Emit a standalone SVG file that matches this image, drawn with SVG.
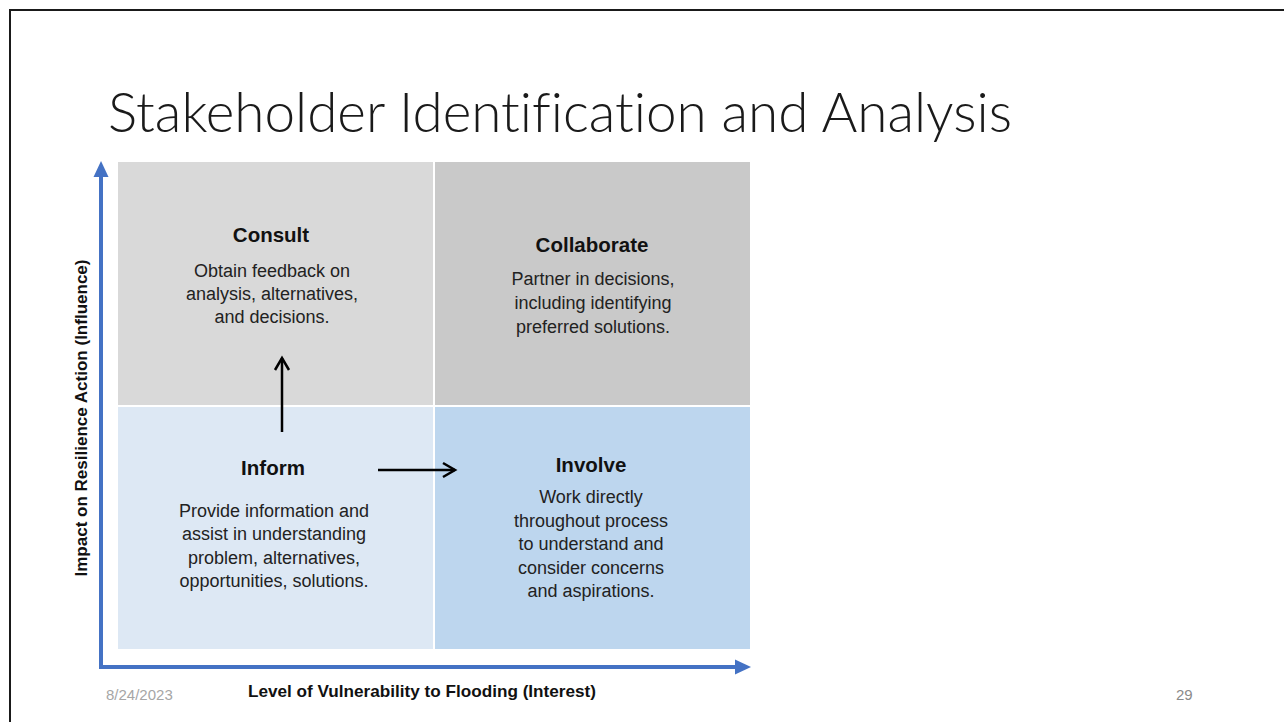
<svg xmlns="http://www.w3.org/2000/svg" width="1284" height="722" viewBox="0 0 1284 722">
<style>
.title{font-family:"Lato","Liberation Sans",sans-serif;font-weight:300;font-size:55px;fill:#1a1a1a;font-variant-ligatures:none;font-feature-settings:"liga" 0}
.h{font-family:"Liberation Sans",Arial,sans-serif;font-weight:bold;font-size:20.5px;fill:#111;text-anchor:middle}
.b{font-family:"Liberation Sans",Arial,sans-serif;font-size:18px;fill:#222;text-anchor:middle}
.ax{font-family:"Liberation Sans",Arial,sans-serif;font-weight:bold;font-size:17px;fill:#111}
.foot{font-family:"Liberation Sans",Arial,sans-serif;font-size:15px}
.blk{stroke:#000;stroke-width:2.5;fill:none}
.axis{stroke:#4472c4;stroke-width:4;fill:none;stroke-linejoin:miter}
</style>
<defs>
<marker id="openHead" markerUnits="userSpaceOnUse" markerWidth="18" markerHeight="18" refX="15" refY="8" orient="auto" overflow="visible">
<path d="M3,1 L15,8 L3,15" fill="none" stroke="#000" stroke-width="2.5"/>
</marker>
<marker id="blueHead" markerUnits="userSpaceOnUse" markerWidth="18" markerHeight="18" refX="0" refY="7.5" orient="auto-start-reverse" overflow="visible">
<path d="M0,0 L16,7.5 L0,15 Z" fill="#4472c4"/>
</marker>
</defs>
<rect width="1284" height="722" fill="#fff"/>
<path d="M10,722 L10,10 L1284,10" fill="none" stroke="#1a1a1a" stroke-width="2"/>
<text class="title" x="108" y="132" textLength="904" lengthAdjust="spacingAndGlyphs">Stakeholder Identification and Analysis</text>

<g id="consult">
<rect x="118" y="162" width="315" height="243" fill="#d9d9d9"/>
<text class="h" x="271" y="242">Consult</text>
<text class="b" x="272" y="277">Obtain feedback on</text>
<text class="b" x="272" y="300">analysis, alternatives,</text>
<text class="b" x="272" y="323">and decisions.</text>
</g>
<g id="collaborate">
<rect x="435" y="162" width="315" height="243" fill="#c9c9c9"/>
<text class="h" x="592" y="251.5">Collaborate</text>
<text class="b" x="593" y="285">Partner in decisions,</text>
<text class="b" x="593" y="309">including identifying</text>
<text class="b" x="593" y="332.5">preferred solutions.</text>
</g>
<g id="inform">
<rect x="118" y="407" width="315" height="242" fill="#dde8f4"/>
<text class="h" x="273" y="475">Inform</text>
<text class="b" x="274" y="516.5">Provide information and</text>
<text class="b" x="274" y="540">assist in understanding</text>
<text class="b" x="274" y="563.5">problem, alternatives,</text>
<text class="b" x="274" y="586.5">opportunities, solutions.</text>
</g>
<g id="involve">
<rect x="435" y="407" width="315" height="242" fill="#bdd6ee"/>
<text class="h" x="591" y="471.5">Involve</text>
<text class="b" x="591" y="503">Work directly</text>
<text class="b" x="591" y="527">throughout process</text>
<text class="b" x="591" y="550">to understand and</text>
<text class="b" x="591" y="573.5">consider concerns</text>
<text class="b" x="591" y="597">and aspirations.</text>
</g>

<g id="axes">
<path class="axis" d="M101,177 L101,667 L735,667" marker-start="url(#blueHead)" marker-end="url(#blueHead)"/>
<text class="ax" transform="translate(87,418) rotate(-90)" text-anchor="middle" textLength="317" lengthAdjust="spacingAndGlyphs">Impact on Resilience Action (Influence)</text>
<text class="ax" x="248" y="697" textLength="348" lengthAdjust="spacingAndGlyphs">Level of Vulnerability to Flooding (Interest)</text>
</g>

<g id="connectors">
<line class="blk" x1="282" y1="432" x2="282" y2="358" marker-end="url(#openHead)"/>
<line class="blk" x1="378" y1="470" x2="455" y2="470" marker-end="url(#openHead)"/>
</g>

<text class="foot" x="106" y="700" fill="#a6a6a6">8/24/2023</text>
<text class="foot" x="1176" y="700" fill="#8a8a8a" font-size="14.5">29</text>
</svg>
